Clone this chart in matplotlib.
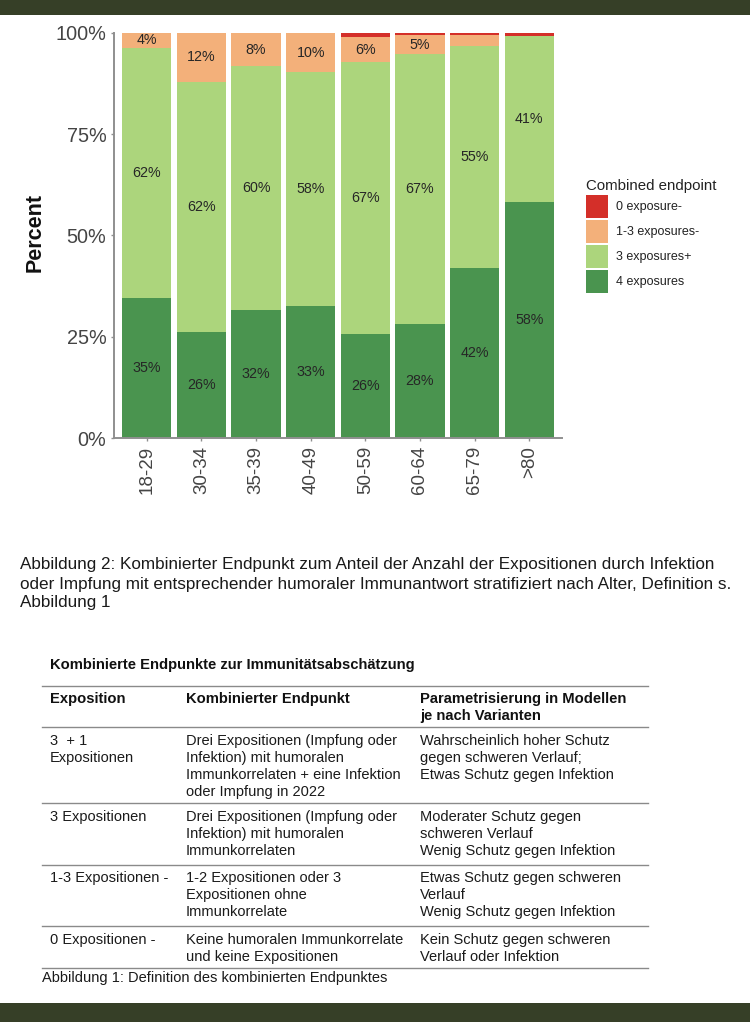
import matplotlib
matplotlib.use('Agg')
import matplotlib.pyplot as plt
from matplotlib.patches import Rectangle
import numpy as np

# ---------------- data ----------------
categories = ['18-29', '30-34', '35-39', '40-49', '50-59', '60-64', '65-79', '>80']
four = [34.6, 26.2, 31.6, 32.6, 25.6, 28.2, 42.0, 58.3]          # 4 exposures
three_plus = [61.8, 61.8, 60.2, 57.7, 67.2, 66.6, 54.9, 41.0]    # 3 exposures+
one_three = [3.6, 12.0, 8.2, 9.7, 6.2, 4.6, 2.5, 0.0]            # 1-3 exposures-
zero = [0.0, 0.0, 0.0, 0.0, 1.0, 0.6, 0.6, 0.7]                  # 0 exposure-
series_names = ['0 exposure-', '1-3 exposures-', '3 exposures+', '4 exposures']
y_ticks = [0, 25, 50, 75, 100]
y_tick_labels = ['0%', '25%', '50%', '75%', '100%']

caption2 = ['Abbildung 2: Kombinierter Endpunkt zum Anteil der Anzahl der Expositionen durch Infektion',
            'oder Impfung mit entsprechender humoraler Immunantwort stratifiziert nach Alter, Definition s.',
            'Abbildung 1']
table_title = 'Kombinierte Endpunkte zur Immunitätsabschätzung'
table_header = [['Exposition'], ['Kombinierter Endpunkt'], ['Parametrisierung in Modellen', 'je nach Varianten']]
table_rows = [
    [['3  + 1', 'Expositionen'],
     ['Drei Expositionen (Impfung oder', 'Infektion) mit humoralen', 'Immunkorrelaten + eine Infektion', 'oder Impfung in 2022'],
     ['Wahrscheinlich hoher Schutz', 'gegen schweren Verlauf;', 'Etwas Schutz gegen Infektion']],
    [['3 Expositionen'],
     ['Drei Expositionen (Impfung oder', 'Infektion) mit humoralen', 'Immunkorrelaten'],
     ['Moderater Schutz gegen', 'schweren Verlauf', 'Wenig Schutz gegen Infektion']],
    [['1-3 Expositionen -'],
     ['1-2 Expositionen oder 3', 'Expositionen ohne', 'Immunkorrelate'],
     ['Etwas Schutz gegen schweren', 'Verlauf', 'Wenig Schutz gegen Infektion']],
    [['0 Expositionen -'],
     ['Keine humoralen Immunkorrelate', 'und keine Expositionen'],
     ['Kein Schutz gegen schweren', 'Verlauf oder Infektion']],
]
caption1 = 'Abbildung 1: Definition des kombinierten Endpunktes'

# ---------------- styles ----------------
W, H = 750, 1022
C_RED, C_ORANGE, C_LGREEN, C_DGREEN = '#d42f29', '#f3b07a', '#acd57c', '#4a944f'
BAND = '#363f27'
AXGRAY = '#8f8f8f'
CHART_FONT = ['Liberation Sans', 'DejaVu Sans']
DOC_FONT = ['Liberation Sans', 'DejaVu Sans']

fig = plt.figure(figsize=(W / 100, H / 100), dpi=100, facecolor='white')
renderer = fig.canvas.get_renderer()

page = fig.add_axes([0, 0, 1, 1], zorder=0)
page.set_xlim(0, W)
page.set_ylim(H, 0)
page.axis('off')
page.patch.set_alpha(0)

# dark bands top and bottom
page.add_patch(Rectangle((0, 0), W, 15, color=BAND, lw=0))
page.add_patch(Rectangle((0, 1003), W, H - 1003, color=BAND, lw=0))


def fit_size(text, target_px, weight='normal', family=DOC_FONT, base=12.0):
    t = fig.text(0, 0, text, fontsize=base, family=family, weight=weight)
    w = t.get_window_extent(renderer).width
    t.remove()
    return base * target_px / w


# ---------------- chart ----------------
L, R, T, B = 114, 562, 33, 438
ax = fig.add_axes([L / W, 1 - B / H, (R - L) / W, (B - T) / H], zorder=2)
x = np.arange(len(categories))
bw = 0.9
four_a, three_a, one_a, zero_a = map(np.array, (four, three_plus, one_three, zero))
b1 = ax.bar(x, four_a, bw, color=C_DGREEN, lw=0)
b2 = ax.bar(x, three_a, bw, bottom=four_a, color=C_LGREEN, lw=0)
b3 = ax.bar(x, one_a, bw, bottom=four_a + three_a, color=C_ORANGE, lw=0)
b4 = ax.bar(x, zero_a, bw, bottom=four_a + three_a + one_a, color=C_RED, lw=0)

for vals, bottoms in ((four_a, 0 * four_a), (three_a, four_a), (one_a, four_a + three_a)):
    for xi, v, bt in zip(x, vals, bottoms):
        if v >= 3:
            ax.text(xi, bt + v / 2, f'{round(v)}%', ha='center', va='center',
                    fontsize=10.3, color='#262626', family=CHART_FONT)

ax.set_xlim(-0.6, len(categories) - 0.4)
ax.set_ylim(0, 100)
ax.set_yticks(y_ticks)
ax.set_yticklabels(y_tick_labels, family=CHART_FONT, fontsize=14.3, color='#444444')
ax.set_xticks(x)
ax.set_xticklabels(categories, rotation=90, family=CHART_FONT, fontsize=13.5, color='#444444')
for s in ('top', 'right'):
    ax.spines[s].set_visible(False)
for s in ('left', 'bottom'):
    ax.spines[s].set_color(AXGRAY)
    ax.spines[s].set_linewidth(1.4)
ax.tick_params(axis='both', length=2.5, width=1, color=AXGRAY, pad=3)
ax.set_facecolor('white')

fig.text(35 / W, 1 - 233 / H, 'Percent', rotation=90, ha='center', va='center',
         fontsize=15.5, weight='bold', family=CHART_FONT, color='#111111')

# legend
leg = fig.legend([b4.patches[0], b3.patches[0], b2.patches[0], b1.patches[0]], series_names,
                 loc='upper left', bbox_to_anchor=(586 / W, 1 - 179 / H), frameon=False,
                 title='Combined endpoint', alignment='left',
                 prop={'family': CHART_FONT, 'size': 9},
                 title_fontproperties={'family': CHART_FONT, 'size': 10.8},
                 handlelength=1.76, handleheight=2.45, labelspacing=0.16,
                 handletextpad=0.64, borderpad=0, borderaxespad=0)
leg.get_title().set_color('#222222')
for t in leg.get_texts():
    t.set_color('#222222')

# ---------------- caption of figure 2 ----------------
fs_cap = min(fit_size(caption2[0], 714), fit_size(caption2[1], 713))
for i, line in enumerate(caption2):
    page.text(20, [565, 585, 603][i], line, fontsize=fs_cap, family=DOC_FONT,
              va='center', ha='left', color='#1a1a1a')

# ---------------- table ----------------
fs_title = fit_size(table_title, 364, weight='bold')
page.text(50, 665, table_title, fontsize=fs_title, weight='bold', family=DOC_FONT,
          va='center', ha='left', color='#111111')

fs_head = fit_size(table_header[2][0], 206, weight='bold')
fs_body = fit_size(table_rows[0][1][2], 213)
col_x = [50, 186, 420]
line_step = 17
rule_y = [686, 727, 803, 865, 926, 968]
for yy in rule_y:
    page.plot([42, 648], [yy, yy], color='#8a8a8a', lw=1.0)

for c, cell in enumerate(table_header):
    for k, line in enumerate(cell):
        page.text(col_x[c], 699 + k * line_step, line, fontsize=fs_head, weight='bold',
                  family=DOC_FONT, va='center', ha='left', color='#111111')

row_first_y = [741, 817, 878, 940]
for r, row in enumerate(table_rows):
    for c, cell in enumerate(row):
        for k, line in enumerate(cell):
            page.text(col_x[c], row_first_y[r] + k * line_step, line, fontsize=fs_body,
                      family=DOC_FONT, va='center', ha='left', color='#1a1a1a')

fs_c1 = fit_size(caption1, 345)
page.text(42, 978, caption1, fontsize=fs_c1, family=DOC_FONT, va='center', ha='left',
          color='#1a1a1a')

fig.savefig('out.png', dpi=100, facecolor='white')
